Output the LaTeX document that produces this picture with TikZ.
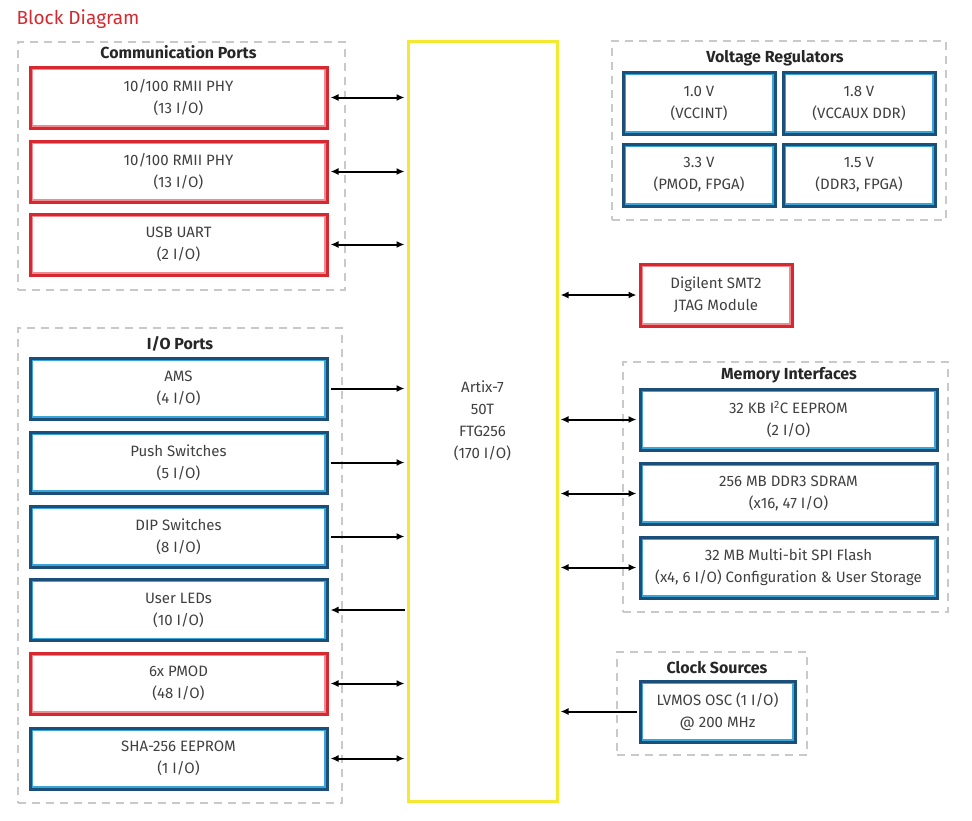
\documentclass[tikz,border=0pt]{standalone}
\usepackage{fontspec}
\setmainfont{Fira Sans}
\usetikzlibrary{arrows.meta,positioning,fit,backgrounds}
\definecolor{dgred}{HTML}{D7282F}
\definecolor{dgredin}{HTML}{EE8A90}
\definecolor{dgblue}{HTML}{1B4E79}
\definecolor{dgcyan}{HTML}{3AA6D8}
\definecolor{dgyellow}{HTML}{F5E830}
\definecolor{dggray}{HTML}{C9C9C9}

\begin{document}
\begin{tikzpicture}[
  x=1pt,y=-1pt,
  blk/.style={minimum width=297pt,minimum height=61pt,align=center,inner sep=0pt,
    font=\fontsize{15}{22}\selectfont\color{black!75}},
  small/.style={minimum width=152pt,minimum height=62pt},
  redblk/.style={blk,draw=dgred,line width=3pt,
    path picture={\draw[dgredin,line width=1.4pt] ([shift={(2.2pt,-2.2pt)}]path picture bounding box.north west) rectangle ([shift={(-2.2pt,2.2pt)}]path picture bounding box.south east);}},
  blublk/.style={blk,draw=dgblue,line width=3pt,
    path picture={\draw[dgcyan,line width=1.4pt] ([shift={(2.2pt,-2.2pt)}]path picture bounding box.north west) rectangle ([shift={(-2.2pt,2.2pt)}]path picture bounding box.south east);}},
  grp/.style={draw=dggray,line width=2pt,dash pattern=on 8pt off 6pt,inner sep=0pt},
  grptitle/.style={font=\fontsize{16}{18}\selectfont\bfseries,text=black!85},
  link/.style={{Latex[length=8pt,width=7pt]}-{Latex[length=8pt,width=7pt]},line width=2pt,shorten <=2pt,shorten >=2pt},
  onew/.style={-{Latex[length=8pt,width=7pt]},line width=2pt,shorten <=2pt,shorten >=2pt},
  >=Latex
]
\useasboundingbox (0,0) rectangle (972,820);
\node[anchor=west,text=dgred,font=\fontsize{19}{22}\selectfont] (title) at (13,19) {Block Diagram};

% FPGA
\node[draw=dgyellow,line width=3pt,minimum width=149pt,minimum height=760pt,align=center,
  font=\fontsize{15}{22}\selectfont\color{black!75}] (fpga) at (482.5,421) {Artix-7\\50T\\FTG256\\(170 I/O)};

% communication ports
\node[grp,minimum width=327pt,minimum height=248pt] (comm) at (181.5,166) {};
\node[grptitle] (commt) at (178.5,52) {Communication Ports};
\node[redblk] (phya) at (178.5,97.5) {10/100 RMII PHY\\(13 I/O)};
\node[redblk] (phyb) at (178.5,171.5) {10/100 RMII PHY\\(13 I/O)};
\node[redblk] (uart) at (178.5,244.5) {USB UART\\(2 I/O)};

% I/O ports
\node[grp,minimum width=324pt,minimum height=475pt] (io) at (180,565.5) {};
\node[grptitle] (iot) at (180,344) {I/O Ports};
\node[blublk] (ams) at (178.5,388.5) {AMS\\(4 I/O)};
\node[blublk] (push) at (178.5,462.5) {Push Switches\\(5 I/O)};
\node[blublk] (dip) at (178.5,536.5) {DIP Switches\\(8 I/O)};
\node[blublk] (leds) at (178.5,610) {User LEDs\\(10 I/O)};
\node[redblk] (pmod) at (178.5,683.5) {6x PMOD\\(48 I/O)};
\node[blublk] (sha) at (178.5,758.5) {SHA-256 EEPROM\\(1 I/O)};

% voltage regulators
\node[grp,minimum width=334pt,minimum height=179pt] (volt) at (779,130.5) {};
\node[grptitle] (voltt) at (775,58) {Voltage Regulators};
\node[blublk,small] (vint) at (699,103) {1.0 V\\(VCCINT)};
\node[blublk,small] (vaux) at (859,103) {1.8 V\\(VCCAUX DDR)};
\node[blublk,small] (vpmod) at (699,175) {3.3 V\\(PMOD, FPGA)};
\node[blublk,small] (vddr) at (859,175) {1.5 V\\(DDR3, FPGA)};

% jtag
\node[redblk,small] (smt) at (716,295) {Digilent SMT2\\JTAG Module};

% memory interfaces
\node[grp,minimum width=325pt,minimum height=250pt] (mem) at (785.5,487) {};
\node[grptitle] (memt) at (789,375) {Memory Interfaces};
\node[blublk] (eeprom) at (788.5,419.5) {32 KB I\textsuperscript{2}C EEPROM\\(2 I/O)};
\node[blublk] (ddr) at (788.5,493.5) {256 MB DDR3 SDRAM\\(x16, 47 I/O)};
\node[blublk] (spi) at (788.5,567.5) {32 MB Multi-bit SPI Flash\\(x4, 6 I/O) Configuration \& User Storage};

% clock sources
\node[grp,minimum width=190pt,minimum height=103pt] (clk) at (712,703.5) {};
\node[grptitle] (clkt) at (717,668) {Clock Sources};
\node[blublk,minimum width=155pt] (osc) at (717.5,711.5) {LVMOS OSC (1 I/O)\\@ 200 MHz};

% connections
\draw[link] (phya.east) -- (phya.east -| fpga.west);
\draw[link] (phyb.east) -- (phyb.east -| fpga.west);
\draw[link] (uart.east) -- (uart.east -| fpga.west);
\draw[onew] (ams.east) -- (ams.east -| fpga.west);
\draw[onew] (push.east) -- (push.east -| fpga.west);
\draw[onew] (dip.east) -- (dip.east -| fpga.west);
\draw[onew] (leds.east -| fpga.west) -- (leds.east);
\draw[link] (pmod.east) -- (pmod.east -| fpga.west);
\draw[link] (sha.east) -- (sha.east -| fpga.west);
\draw[link] (fpga.east |- smt.west) -- (smt.west);
\draw[link] (fpga.east |- eeprom.west) -- (eeprom.west);
\draw[link] (fpga.east |- ddr.west) -- (ddr.west);
\draw[link] (fpga.east |- spi.west) -- (spi.west);
\draw[onew] (osc.west) -- (osc.west -| fpga.east);
\end{tikzpicture}
\end{document}
